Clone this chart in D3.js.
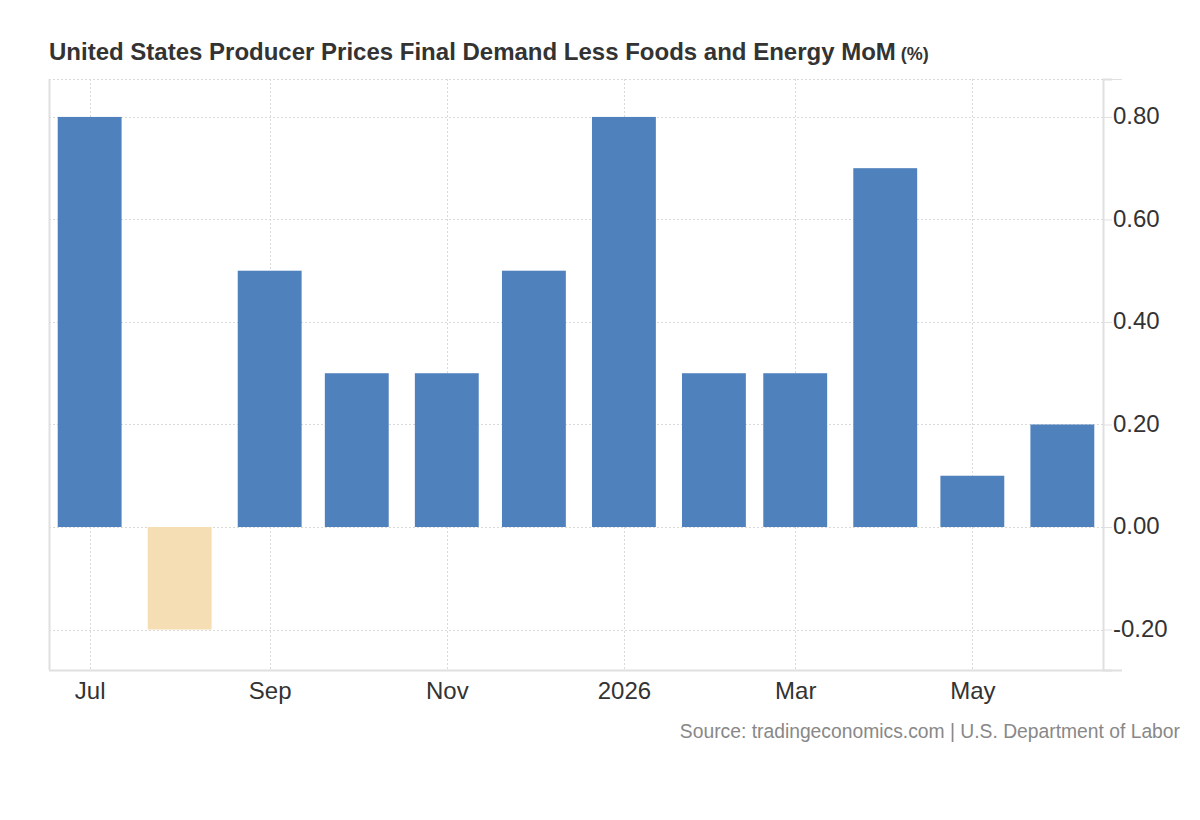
<!DOCTYPE html>
<html>
<head>
<meta charset="utf-8">
<script src="https://cdn.jsdelivr.net/npm/d3@7"></script>
<style>
  html, body { margin: 0; padding: 0; background: #fff; }
  svg { display: block; font-family: "Liberation Sans", Arial, sans-serif; }
</style>
</head>
<body>
<svg id="chart" width="1200" height="820"></svg>
<script>
// ---- data ----
const months = ["2025-07-01","2025-08-01","2025-09-01","2025-10-01","2025-11-01","2025-12-01",
                "2026-01-01","2026-02-01","2026-03-01","2026-04-01","2026-05-01","2026-06-01"];
const values = [0.8, -0.2, 0.5, 0.3, 0.3, 0.5, 0.8, 0.3, 0.3, 0.7, 0.1, 0.2];
const yTicks = [-0.2, 0, 0.2, 0.4, 0.6, 0.8];
const xTickDates = ["2025-07-01","2025-09-01","2025-11-01","2026-01-01","2026-03-01","2026-05-01"];
const xTickLabels = ["Jul","Sep","Nov","2026","Mar","May"];
const titleText = "United States Producer Prices Final Demand Less Foods and Energy MoM";
const unitText = "(%)";
const sourceText = "Source: tradingeconomics.com | U.S. Department of Labor";

(function () {
const parse = d3.utcParse("%Y-%m-%d");
const data = months.map((m, i) => ({ date: parse(m), value: values[i] }));

const svg = d3.select("#chart");
const pL = 49, pR = 1103, pT = 79, pB = 670;
const FONT = "Liberation Sans, Arial, sans-serif";

const x = d3.scaleUtc()
  .domain([parse("2025-06-17"), parse("2026-06-15")])
  .range([pL, pR]);
const y = d3.scaleLinear()
  .domain([-0.279, 0.874])
  .range([pB, pT]);

const halfBar = (x(d3.utcDay.offset(parse("2025-07-01"), 11)) - x(parse("2025-07-01")));

// title
const title = svg.append("text")
  .attr("x", 49).attr("y", 60)
  .attr("font-size", 24).attr("font-weight", "bold").attr("fill", "#333");
title.append("tspan").text(titleText);
title.append("tspan").attr("font-size", 18).attr("dx", 5).text(unitText);

// grid
const grid = svg.append("g");
grid.selectAll("line.h").data(yTicks).join("line")
  .attr("x1", pL).attr("x2", pR)
  .attr("y1", d => Math.round(y(d)) + 0.5).attr("y2", d => Math.round(y(d)) + 0.5)
  .attr("stroke", "#d9d9d9").attr("stroke-dasharray", "2,2");
grid.append("line")
  .attr("x1", pL).attr("x2", pR).attr("y1", pT + 0.5).attr("y2", pT + 0.5)
  .attr("stroke", "#d9d9d9").attr("stroke-dasharray", "2,2");
grid.selectAll("line.v").data(xTickDates).join("line")
  .attr("x1", d => Math.round(x(parse(d))) + 0.5).attr("x2", d => Math.round(x(parse(d))) + 0.5)
  .attr("y1", pT).attr("y2", pB)
  .attr("stroke", "#d9d9d9").attr("stroke-dasharray", "2,2");

// bars
svg.append("g").selectAll("rect").data(data).join("rect")
  .attr("x", d => x(d.date) - halfBar)
  .attr("width", halfBar * 2)
  .attr("y", d => y(Math.max(0, d.value)))
  .attr("height", d => Math.abs(y(d.value) - y(0)))
  .attr("fill", d => d.value < 0 ? "#f5deb3" : "#4f81bd");

// frame lines
svg.append("line").attr("x1", pL + 0.5).attr("x2", pL + 0.5).attr("y1", pT).attr("y2", pB)
  .attr("stroke", "#e0e0e0").attr("stroke-width", 2);
svg.append("line").attr("x1", pL).attr("x2", 1122).attr("y1", pB + 0.5).attr("y2", pB + 0.5)
  .attr("stroke", "#e0e0e0").attr("stroke-width", 2);
svg.append("line").attr("x1", pR).attr("x2", 1122).attr("y1", pT + 0.5).attr("y2", pT + 0.5)
  .attr("stroke", "#e0e0e0");

// right y axis
const fmt = d3.format(".2f");
const yAxis = d3.axisRight(y).tickValues(yTicks)
  .tickFormat(d => fmt(d).replace("\u2212", "-")).tickSize(9).tickPadding(1);
const ya = svg.append("g").attr("transform", `translate(${pR},0)`).call(yAxis);
ya.select(".domain").attr("stroke", "#e0e0e0").attr("stroke-width", 2);
ya.selectAll(".tick line").attr("stroke", "#e0e0e0");
ya.selectAll(".tick text").attr("font-size", 24).attr("fill", "#333")
  .attr("font-family", FONT).attr("dy", "0.28em");

// bottom x axis
const xAxis = d3.axisBottom(x).tickValues(xTickDates.map(parse))
  .tickFormat((d, i) => xTickLabels[i]).tickSize(0).tickPadding(12);
const xa = svg.append("g").attr("transform", `translate(0,${pB})`).call(xAxis);
xa.select(".domain").remove();
xa.selectAll(".tick text").attr("font-size", 24).attr("fill", "#333")
  .attr("font-family", FONT);

// source
svg.append("text").attr("x", 1180).attr("y", 738).attr("text-anchor", "end")
  .attr("font-size", 19.3).attr("fill", "#888").text(sourceText);
})();
</script>
</body>
</html>
